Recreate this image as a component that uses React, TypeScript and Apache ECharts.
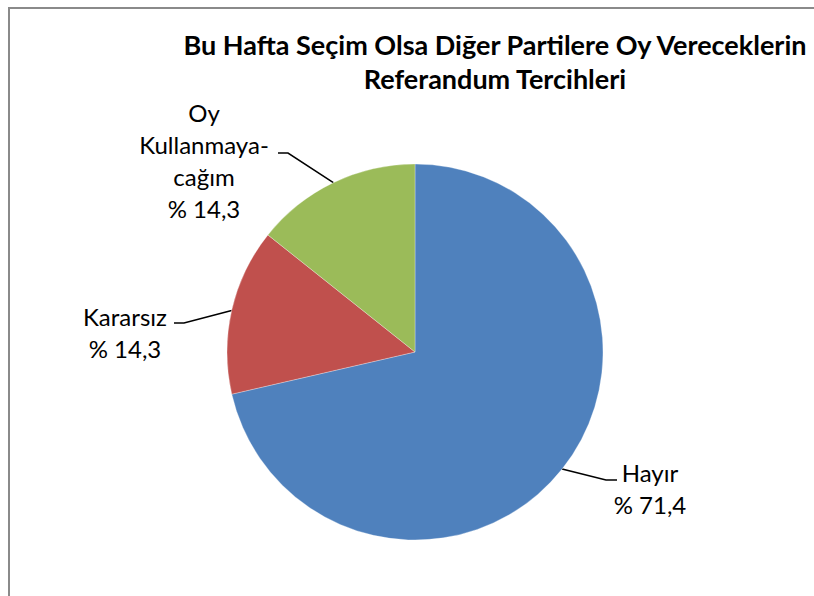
import React, { useEffect, useRef } from "react";
import * as echarts from "echarts";

const titleLines = ["Bu Hafta Seçim Olsa Diğer Partilere Oy Vereceklerin", "Referandum Tercihleri"];
const categories = ["Hayır", "Kararsız", "Oy Kullanmayacağım"];
const labelTexts = ["Hayır", "Kararsız", "Oy\nKullanmaya-\ncağım"];
const values = [71.4, 14.3, 14.3];
const colors = ["#4F81BD", "#C0504D", "#9BBB59"];

// label placement (layout only): text centre x, text top y, leader bend and end points
const labelPlacement = [
  { cx: 650, top: 456, bend: [606, 480], end: [617, 480] },
  { cx: 125, top: 300, bend: [184, 323], end: [174, 323] },
  { cx: 204, top: 96, bend: [288, 153], end: [278, 153] },
];

const FONT = "Lato, 'Open Sans', sans-serif";

export default function App() {
  const ref = useRef<HTMLDivElement>(null);
  useEffect(() => {
    document.body.style.margin = "0";
    document.body.style.overflow = "hidden";
    if (!ref.current) return;
    const chart = echarts.init(ref.current, null, { renderer: "svg" });
    chart.setOption({
      animation: false,
      backgroundColor: "#ffffff",
      title: {
        text: titleLines.join("\n"),
        left: 495,
        top: 27,
        textAlign: "center",
        padding: 0,
        textStyle: {
          fontFamily: FONT,
          fontWeight: "bold",
          fontSize: 27,
          lineHeight: 34,
          color: "#000",
        },
      },
      graphic: [
        {
          type: "line",
          shape: { x1: 9, y1: 7, x2: 9, y2: 600 },
          style: { stroke: "#8a8a8a", lineWidth: 2 },
          silent: true,
        },
        {
          type: "line",
          shape: { x1: 8, y1: 8, x2: 814, y2: 8 },
          style: { stroke: "#8a8a8a", lineWidth: 2 },
          silent: true,
        },
      ],
      series: [
        {
          type: "pie",
          center: [415, 352],
          radius: 188,
          startAngle: 90,
          clockwise: true,
          avoidLabelOverlap: false,
          data: categories.map((name, i) => ({
            name,
            value: values[i],
            itemStyle: { color: colors[i] },
          })),
          itemStyle: { borderColor: "#ffffff", borderWidth: 0.3 },
          label: {
            show: true,
            position: "outside",
            fontFamily: FONT,
            fontSize: 24,
            lineHeight: 32,
            color: "#000",
            formatter: (p: any) =>
              `${labelTexts[p.dataIndex]}\n% ${Number(p.value).toFixed(1).replace(".", ",")}`,
          },
          labelLine: {
            show: true,
            lineStyle: { color: "#000", width: 1.5 },
          },
          labelLayout: (params: any) => {
            const pl = labelPlacement[params.dataIndex];
            const p0 = params.labelLinePoints ? params.labelLinePoints[0] : pl.bend;
            return {
              x: pl.cx,
              y: pl.top,
              align: "center",
              verticalAlign: "top",
              labelLinePoints: [
                [p0[0], p0[1]],
                [pl.bend[0], pl.bend[1]],
                [pl.end[0], pl.end[1]],
              ],
            };
          },
        },
      ],
    });
    return () => chart.dispose();
  }, []);
  return <div ref={ref} style={{ width: 814, height: 596 }} />;
}
